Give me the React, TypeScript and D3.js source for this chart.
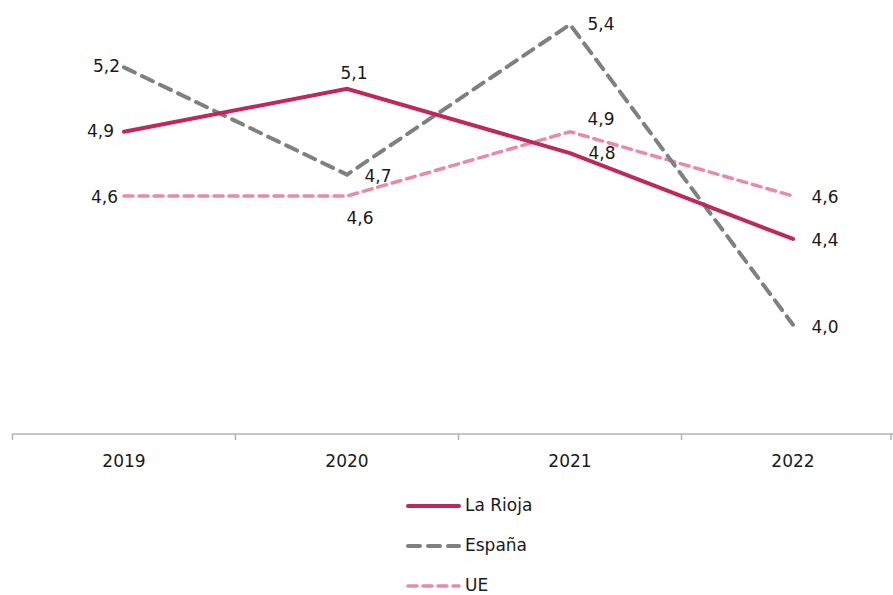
import { useEffect, useRef } from 'react'
import * as d3 from 'd3'

const years = ['2019', '2020', '2021', '2022']
const laRioja = [4.9, 5.1, 4.8, 4.4]
const espana = [5.2, 4.7, 5.4, 4.0]
const ue = [4.6, 4.6, 4.9, 4.6]

// label offsets per point [dx, dy, anchor]
const labelPos = {
	laRioja: [[-10, 5, 'end'], [7, -10, 'middle'], [32, 6, 'middle'], [32, 7, 'middle']],
	espana: [[-4, 5, 'end'], [31, 7, 'middle'], [31, 6, 'middle'], [32, 8, 'middle']],
	ue: [[-6, 7, 'end'], [13, 28, 'middle'], [31, -7, 'middle'], [32, 7, 'middle']],
}

const App = () => {
	const svgRef = useRef(null)

	useEffect(() => {
		const width = 893
		const height = 595
		const svg = d3.select(svgRef.current)
		svg.selectAll('*').remove()
		svg.attr('width', width).attr('height', height)

		const font = "'DejaVu Sans', sans-serif"
		const x = d3.scaleBand().domain(years).range([12.5, 904.5])
		const y = d3.scaleLinear().domain([3.5, 5.5]).range([432, 3])
		const cx = (d) => x(d) + x.bandwidth() / 2

		// Axis
		const axis = svg.append('g').attr('transform', 'translate(0,434)')
		axis.append('line').attr('x1', 12).attr('x2', 893).attr('stroke', '#b3b3b3').attr('stroke-width', 1.5)
		const bounds = [...years.map((d) => x(d)), 891]
		axis
			.selectAll('.tick')
			.data(bounds)
			.enter()
			.append('line')
			.attr('x1', (d) => d)
			.attr('x2', (d) => d)
			.attr('y1', 0)
			.attr('y2', 6)
			.attr('stroke', '#b3b3b3')
			.attr('stroke-width', 1.5)
		axis
			.selectAll('.lbl')
			.data(years)
			.enter()
			.append('text')
			.attr('x', (d) => cx(d))
			.attr('y', 33)
			.attr('text-anchor', 'middle')
			.style('font-family', font)
			.style('font-size', '17px')
			.style('fill', '#1a1a1a')
			.text((d) => d)

		const series = [
			{ key: 'laRioja', name: 'La Rioja', values: laRioja, color: '#c0285a', width: 4, dash: null },
			{ key: 'espana', name: 'España', values: espana, color: '#808080', width: 4, dash: '12,8' },
			{ key: 'ue', name: 'UE', values: ue, color: '#e88aa8', width: 3.5, dash: '9,6' },
		]

		const line = d3
			.line()
			.x((d) => cx(d.year))
			.y((d) => y(d.value))

		// draw UE first, then España, then La Rioja on top
		;[series[2], series[1], series[0]].forEach((s) => {
			const pts = years.map((yr, i) => ({ year: yr, value: s.values[i] }))
			svg
				.append('path')
				.datum(pts)
				.attr('d', line)
				.attr('fill', 'none')
				.attr('stroke', s.color)
				.attr('stroke-width', s.width)
				.attr('stroke-linecap', 'round')
				.attr('stroke-dasharray', s.dash)
		})

		series.forEach((s) => {
			s.values.forEach((v, i) => {
				const [dx, dy, anchor] = labelPos[s.key][i]
				svg
					.append('text')
					.attr('x', cx(years[i]) + dx)
					.attr('y', y(v) + dy)
					.attr('text-anchor', anchor)
					.style('font-family', font)
					.style('font-size', '17px')
					.style('fill', '#1a1a1a')
					.text(d3.format('.1f')(v).replace('.', ','))
			})
		})

		// Legend
		series.forEach((s, i) => {
			const ly = 506 + i * 40
			svg
				.append('line')
				.attr('x1', 408)
				.attr('x2', 459)
				.attr('y1', ly)
				.attr('y2', ly)
				.attr('stroke', s.color)
				.attr('stroke-width', s.width)
				.attr('stroke-linecap', 'round')
				.attr('stroke-dasharray', s.dash)
			svg
				.append('text')
				.attr('x', 465)
				.attr('y', ly + 5)
				.style('font-family', font)
				.style('font-size', '17px')
				.style('fill', '#1a1a1a')
				.text(s.name)
		})
	}, [])

	return <svg ref={svgRef} style={{ position: 'absolute', left: 0, top: 0 }}></svg>
}

export default App
